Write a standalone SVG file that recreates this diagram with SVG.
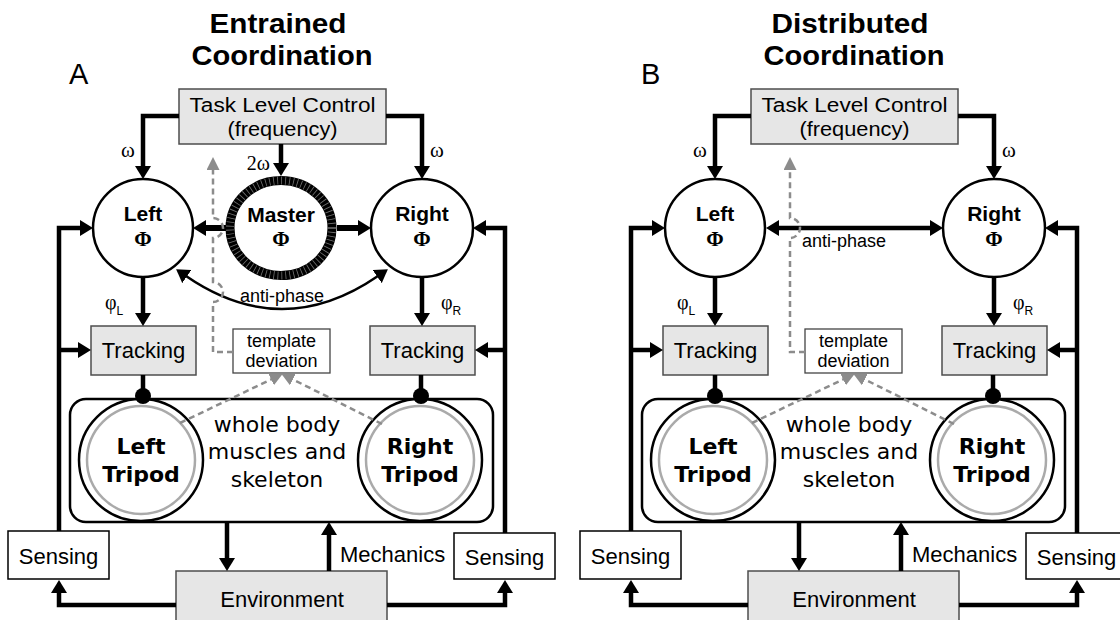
<svg xmlns="http://www.w3.org/2000/svg" width="1120" height="620" viewBox="0 0 1120 620">
<defs>
<style>
.sa{font-family:"Liberation Sans",Arial,sans-serif;fill:#000}
.bd{font-weight:bold}
.sf{font-family:"Liberation Serif","Times New Roman",serif;fill:#000}
.dv{font-family:"DejaVu Sans",sans-serif;fill:#000}
.mid{text-anchor:middle}
.gbox{fill:#e6e6e6;stroke:#4d4d4d;stroke-width:1.5}
.wbox{fill:#fff;stroke:#000;stroke-width:1.5}
.osc{fill:#fff;stroke:#000;stroke-width:2.5}
.ln{fill:none;stroke:#000;stroke-width:4.5}
.thk{fill:none;stroke:#000;stroke-width:6}
.thin{fill:none;stroke:#000;stroke-width:2.5}
.dash{fill:none;stroke:#8c8c8c;stroke-width:2.5;stroke-dasharray:6 4}
</style>
<marker id="ah" markerUnits="userSpaceOnUse" markerWidth="14" markerHeight="16" refX="1" refY="8" orient="auto"><path d="M0,0 L13,8 L0,16 Z" fill="#000"/></marker>
<marker id="ahs" markerUnits="userSpaceOnUse" markerWidth="14" markerHeight="16" refX="1" refY="8" orient="auto-start-reverse"><path d="M0,0 L13,8 L0,16 Z" fill="#000"/></marker>
<marker id="gh" markerUnits="userSpaceOnUse" markerWidth="14" markerHeight="14" refX="1" refY="6.5" orient="auto"><path d="M0,0 L13,6.5 L0,13 Z" fill="#8c8c8c"/></marker>
</defs>
<rect width="1120" height="620" fill="#fff"/>

<!-- ================= PANEL A ================= -->
<g id="panelA">
  <g id="A-title">
    <text class="sa bd mid" x="278" y="33" font-size="28" textLength="137" lengthAdjust="spacingAndGlyphs">Entrained</text>
    <text class="sa bd mid" x="282" y="65" font-size="28" textLength="181" lengthAdjust="spacingAndGlyphs">Coordination</text>
    <text class="sa" x="69" y="84" font-size="29">A</text>
  </g>
  <g id="A-task">
    <rect class="gbox" x="179" y="89" width="207" height="55"/>
    <text class="sa mid" x="282.5" y="112" font-size="20" textLength="186" lengthAdjust="spacingAndGlyphs">Task Level Control</text>
    <text class="sa mid" x="282.5" y="136" font-size="20" textLength="110" lengthAdjust="spacingAndGlyphs">(frequency)</text>
  </g>
  <g id="A-left">
    <ellipse class="osc" cx="143" cy="228" rx="50" ry="49"/>
    <text class="sa bd mid" x="143" y="221" font-size="21">Left</text>
    <text class="sf bd mid" x="143" y="246" font-size="21">Φ</text>
  </g>
  <g id="A-master">
    <ellipse cx="281" cy="228" rx="51" ry="47.5" fill="#fff" stroke="#000" stroke-width="9"/>
    <ellipse cx="281" cy="228" rx="51" ry="47.5" fill="none" stroke="#fff" stroke-opacity="0.45" stroke-width="8" stroke-dasharray="0.8 3.2"/>
    <text class="sa bd mid" x="281" y="222" font-size="21">Master</text>
    <text class="sf bd mid" x="281" y="246" font-size="21">Φ</text>
  </g>
  <g id="A-right">
    <ellipse class="osc" cx="422" cy="228" rx="51" ry="49"/>
    <text class="sa bd mid" x="422" y="221" font-size="21">Right</text>
    <text class="sf bd mid" x="422" y="246" font-size="21">Φ</text>
  </g>
  <g id="A-trackL">
    <rect class="gbox" x="91" y="326" width="105" height="49"/>
    <text class="sa mid" x="143.5" y="358" font-size="22">Tracking</text>
  </g>
  <g id="A-trackR">
    <rect class="gbox" x="370" y="326" width="105" height="49"/>
    <text class="sa mid" x="422.5" y="358" font-size="22">Tracking</text>
  </g>
  <g id="A-template">
    <rect x="233" y="329" width="97" height="44" fill="#fff" stroke="#444" stroke-width="1.3"/>
    <text class="sa mid" x="281.5" y="347" font-size="18">template</text>
    <text class="sa mid" x="281.5" y="367" font-size="18">deviation</text>
  </g>
  <g id="A-body">
    <rect x="70" y="399" width="423" height="123" rx="16" fill="#fff" stroke="#000" stroke-width="2.5"/>
    <text class="dv mid" x="277" y="432" font-size="22">whole body</text>
    <text class="dv mid" x="277" y="459" font-size="22">muscles and</text>
    <text class="dv mid" x="277" y="487" font-size="22">skeleton</text>
  </g>
  <g id="A-tripodL">
    <ellipse cx="141" cy="460" rx="62" ry="61" fill="#fff" stroke="#000" stroke-width="2.5"/>
    <ellipse cx="141" cy="460" rx="54" ry="54" fill="none" stroke="#aaa" stroke-width="2.5"/>
    <text class="dv bd mid" x="141" y="454" font-size="22">Left</text>
    <text class="dv bd mid" x="141" y="482" font-size="22">Tripod</text>
  </g>
  <g id="A-tripodR">
    <ellipse cx="420" cy="460" rx="62" ry="61" fill="#fff" stroke="#000" stroke-width="2.5"/>
    <ellipse cx="420" cy="460" rx="54" ry="54" fill="none" stroke="#aaa" stroke-width="2.5"/>
    <text class="dv bd mid" x="420" y="454" font-size="22">Right</text>
    <text class="dv bd mid" x="420" y="482" font-size="22">Tripod</text>
  </g>
  <g id="A-sensL">
    <rect class="wbox" x="8" y="531" width="101" height="48"/>
    <text class="sa mid" x="58.5" y="564" font-size="22">Sensing</text>
  </g>
  <g id="A-sensR">
    <rect class="wbox" x="454" y="533" width="101" height="46"/>
    <text class="sa mid" x="504.5" y="565" font-size="22">Sensing</text>
  </g>
  <g id="A-env">
    <rect class="gbox" x="176" y="571" width="211" height="55"/>
    <text class="sa mid" x="282" y="607" font-size="22">Environment</text>
  </g>

  <g id="A-connectors">
    <path class="ln" d="M179,116 H143 V167" marker-end="url(#ah)"/>
    <path class="ln" d="M386,116 H422 V167" marker-end="url(#ah)"/>
    <path class="ln" d="M281,144 V164" marker-end="url(#ah)"/>
    <path class="thk" d="M337,228 H359" marker-end="url(#ah)"/>
    <path class="thk" d="M226,228 H205" marker-end="url(#ah)"/>
    <path class="thin" d="M186,276 Q282,342 378,276" marker-start="url(#ahs)" marker-end="url(#ah)"/>
    <path class="ln" d="M143,277 V314" marker-end="url(#ah)"/>
    <path class="ln" d="M422,277 V314" marker-end="url(#ah)"/>
    <path class="ln" d="M59,531 V228 H81" marker-end="url(#ah)"/>
    <path class="ln" d="M59,350 H79" marker-end="url(#ah)"/>
    <path class="ln" d="M505,533 V228 H485" marker-end="url(#ah)"/>
    <path class="ln" d="M505,350 H487" marker-end="url(#ah)"/>
    <path class="ln" d="M176,605 H59 V592" marker-end="url(#ah)"/>
    <path class="ln" d="M387,605 H505 V592" marker-end="url(#ah)"/>
    <path class="ln" d="M227,522 V559" marker-end="url(#ah)"/>
    <path class="ln" d="M329,571 V534" marker-end="url(#ah)"/>
    <path class="ln" d="M143,375 V396"/>
    <circle cx="143" cy="396" r="8" fill="#000"/>
    <path class="ln" d="M421,375 V396"/>
    <circle cx="421" cy="396" r="8" fill="#000"/>
    <path class="dash" d="M233,352 H213 V302 A10,10 0 0 0 213,282 V238 A10,10 0 0 0 213,218 V169" marker-end="url(#gh)"/>
    <path class="dash" d="M180,423 L272,379" marker-end="url(#gh)"/>
    <path class="dash" d="M382,424 L292,379" marker-end="url(#gh)"/>
    <text class="sf mid" x="128" y="157" font-size="21">ω</text>
    <text class="sf mid" x="437" y="157" font-size="21">ω</text>
    <text class="sf" x="270" y="170" font-size="20" text-anchor="end">2ω</text>
    <text class="sf" x="105" y="309" font-size="20">φ<tspan class="sa" font-size="12" dy="6">L</tspan></text>
    <text class="sf" x="441" y="309" font-size="20">φ<tspan class="sa" font-size="12" dy="6">R</tspan></text>
    <text class="sa mid" x="282" y="302" font-size="18">anti-phase</text>
    <text class="sa" x="340" y="562" font-size="22">Mechanics</text>
  </g>
</g>

<!-- ================= PANEL B ================= -->
<g id="panelB" transform="translate(572,0)">
  <g id="B-title">
    <text class="sa bd mid" x="278" y="33" font-size="28" textLength="157" lengthAdjust="spacingAndGlyphs">Distributed</text>
    <text class="sa bd mid" x="282" y="65" font-size="28" textLength="181" lengthAdjust="spacingAndGlyphs">Coordination</text>
    <text class="sa" x="69" y="84" font-size="29">B</text>
  </g>
  <g id="B-task">
    <rect class="gbox" x="179" y="89" width="207" height="55"/>
    <text class="sa mid" x="282.5" y="112" font-size="20" textLength="186" lengthAdjust="spacingAndGlyphs">Task Level Control</text>
    <text class="sa mid" x="282.5" y="136" font-size="20" textLength="110" lengthAdjust="spacingAndGlyphs">(frequency)</text>
  </g>
  <g id="B-left">
    <ellipse class="osc" cx="143" cy="228" rx="50" ry="49"/>
    <text class="sa bd mid" x="143" y="221" font-size="21">Left</text>
    <text class="sf bd mid" x="143" y="246" font-size="21">Φ</text>
  </g>
  <g id="B-right">
    <ellipse class="osc" cx="422" cy="228" rx="51" ry="49"/>
    <text class="sa bd mid" x="422" y="221" font-size="21">Right</text>
    <text class="sf bd mid" x="422" y="246" font-size="21">Φ</text>
  </g>
  <g id="B-trackL">
    <rect class="gbox" x="91" y="326" width="105" height="49"/>
    <text class="sa mid" x="143.5" y="358" font-size="22">Tracking</text>
  </g>
  <g id="B-trackR">
    <rect class="gbox" x="370" y="326" width="105" height="49"/>
    <text class="sa mid" x="422.5" y="358" font-size="22">Tracking</text>
  </g>
  <g id="B-template">
    <rect x="233" y="329" width="97" height="44" fill="#fff" stroke="#444" stroke-width="1.3"/>
    <text class="sa mid" x="281.5" y="347" font-size="18">template</text>
    <text class="sa mid" x="281.5" y="367" font-size="18">deviation</text>
  </g>
  <g id="B-body">
    <rect x="70" y="399" width="423" height="123" rx="16" fill="#fff" stroke="#000" stroke-width="2.5"/>
    <text class="dv mid" x="277" y="432" font-size="22">whole body</text>
    <text class="dv mid" x="277" y="459" font-size="22">muscles and</text>
    <text class="dv mid" x="277" y="487" font-size="22">skeleton</text>
  </g>
  <g id="B-tripodL">
    <ellipse cx="141" cy="460" rx="62" ry="61" fill="#fff" stroke="#000" stroke-width="2.5"/>
    <ellipse cx="141" cy="460" rx="54" ry="54" fill="none" stroke="#aaa" stroke-width="2.5"/>
    <text class="dv bd mid" x="141" y="454" font-size="22">Left</text>
    <text class="dv bd mid" x="141" y="482" font-size="22">Tripod</text>
  </g>
  <g id="B-tripodR">
    <ellipse cx="420" cy="460" rx="62" ry="61" fill="#fff" stroke="#000" stroke-width="2.5"/>
    <ellipse cx="420" cy="460" rx="54" ry="54" fill="none" stroke="#aaa" stroke-width="2.5"/>
    <text class="dv bd mid" x="420" y="454" font-size="22">Right</text>
    <text class="dv bd mid" x="420" y="482" font-size="22">Tripod</text>
  </g>
  <g id="B-sensL">
    <rect class="wbox" x="8" y="531" width="101" height="48"/>
    <text class="sa mid" x="58.5" y="564" font-size="22">Sensing</text>
  </g>
  <g id="B-sensR">
    <rect class="wbox" x="454" y="533" width="101" height="46"/>
    <text class="sa mid" x="504.5" y="565" font-size="22">Sensing</text>
  </g>
  <g id="B-env">
    <rect class="gbox" x="176" y="571" width="211" height="55"/>
    <text class="sa mid" x="282" y="607" font-size="22">Environment</text>
  </g>

  <g id="B-connectors">
    <path class="ln" d="M179,116 H143 V167" marker-end="url(#ah)"/>
    <path class="ln" d="M386,116 H422 V167" marker-end="url(#ah)"/>
    <path class="ln" d="M206,228 H359" marker-start="url(#ahs)" marker-end="url(#ah)"/>
    <path class="ln" d="M143,277 V314" marker-end="url(#ah)"/>
    <path class="ln" d="M422,277 V314" marker-end="url(#ah)"/>
    <path class="ln" d="M59,531 V228 H81" marker-end="url(#ah)"/>
    <path class="ln" d="M59,350 H79" marker-end="url(#ah)"/>
    <path class="ln" d="M505,533 V228 H485" marker-end="url(#ah)"/>
    <path class="ln" d="M505,350 H487" marker-end="url(#ah)"/>
    <path class="ln" d="M176,605 H59 V592" marker-end="url(#ah)"/>
    <path class="ln" d="M387,605 H505 V592" marker-end="url(#ah)"/>
    <path class="ln" d="M227,522 V559" marker-end="url(#ah)"/>
    <path class="ln" d="M329,571 V534" marker-end="url(#ah)"/>
    <path class="ln" d="M143,375 V396"/>
    <circle cx="143" cy="396" r="8" fill="#000"/>
    <path class="ln" d="M421,375 V396"/>
    <circle cx="421" cy="396" r="8" fill="#000"/>
    <path class="dash" d="M233,352 H218 V238 A10,10 0 0 0 218,218 V169" marker-end="url(#gh)"/>
    <path class="dash" d="M180,423 L272,379" marker-end="url(#gh)"/>
    <path class="dash" d="M382,424 L292,379" marker-end="url(#gh)"/>
    <text class="sf mid" x="128" y="157" font-size="21">ω</text>
    <text class="sf mid" x="437" y="157" font-size="21">ω</text>
    <text class="sf" x="105" y="309" font-size="20">φ<tspan class="sa" font-size="12" dy="6">L</tspan></text>
    <text class="sf" x="441" y="309" font-size="20">φ<tspan class="sa" font-size="12" dy="6">R</tspan></text>
    <text class="sa" x="230" y="247" font-size="18">anti-phase</text>
    <text class="sa" x="340" y="562" font-size="22">Mechanics</text>
  </g>
</g>
</svg>
